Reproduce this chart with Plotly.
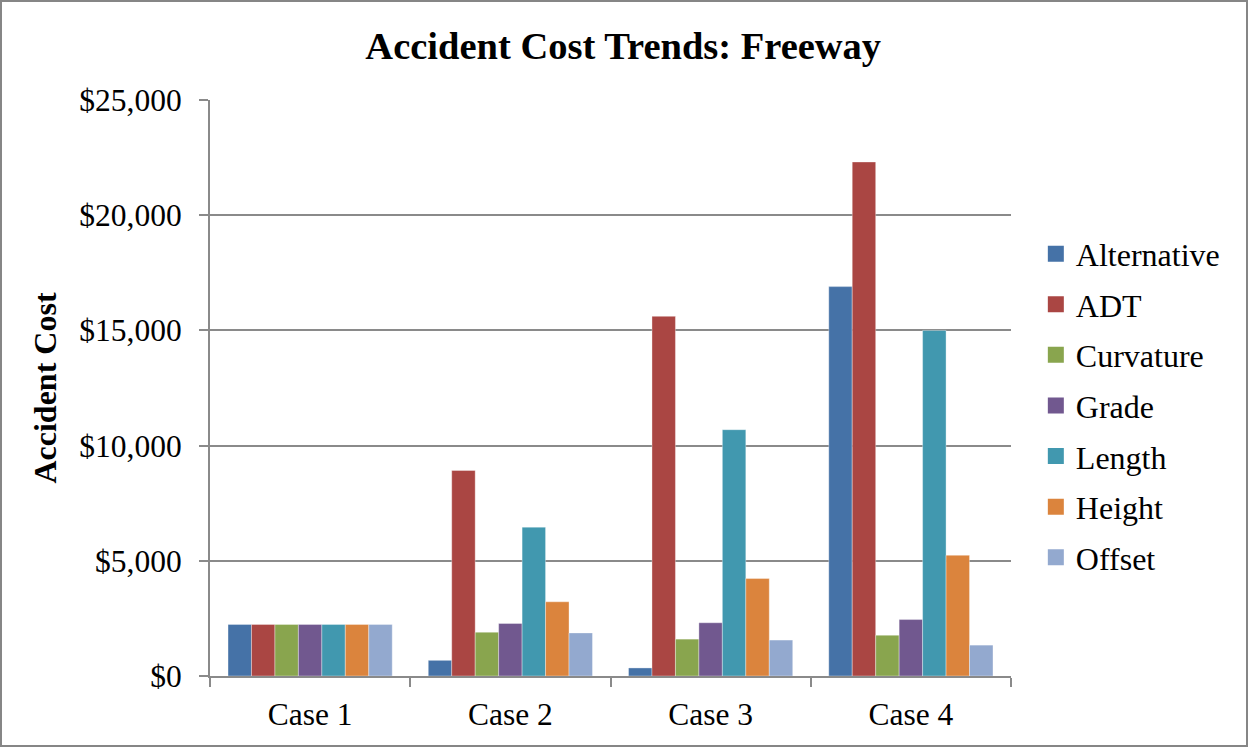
import plotly.graph_objects as go

categories = ["Case 1", "Case 2", "Case 3", "Case 4"]
series_names = ["Alternative", "ADT", "Curvature", "Grade", "Length", "Height", "Offset"]
alternative = [2240, 680, 350, 16900]
adt = [2240, 8920, 15610, 22310]
curvature = [2240, 1900, 1600, 1770]
grade = [2240, 2280, 2310, 2450]
length = [2240, 6460, 10690, 15000]
height = [2240, 3220, 4230, 5240]
offset = [2240, 1870, 1560, 1340]
colors = ["#4572A7", "#AA4643", "#89A54E", "#71588F", "#4198AF", "#DB843D", "#93A9CF"]

values = [alternative, adt, curvature, grade, length, height, offset]
FONT = "Liberation Serif, Times New Roman, serif"
GRID = "#8a8a8a"

fig = go.Figure()
for name, vals, col in zip(series_names, values, colors):
    fig.add_trace(go.Bar(
        name=name, x=categories, y=vals, marker_color=col,
        marker_line=dict(color="rgba(255,255,255,0.35)", width=1),
        legendgroup=name, showlegend=False,
    ))
# legend entries with larger square swatches
for name, col in zip(series_names, colors):
    fig.add_trace(go.Scatter(
        name=name, x=[None], y=[None], mode="markers",
        marker=dict(symbol="square", size=17, color=col, line=dict(width=0)),
        legendgroup=name, showlegend=True, hoverinfo="skip",
    ))

W, H = 1249, 748
L, R, T, B = 210, 238, 100, 72
fig.update_layout(
    width=W, height=H,
    margin=dict(l=L, r=R, t=T, b=B),
    paper_bgcolor="white", plot_bgcolor="white",
    barmode="group", bargap=0.18, bargroupgap=0,
    font=dict(family=FONT, size=31, color="black"),
    title=dict(text="<b>Accident Cost Trends: Freeway</b>", x=0.499, xanchor="center",
               y=1 - 46 / H, yanchor="middle", yref="container",
               font=dict(family=FONT, size=38.5, color="black")),
    legend=dict(x=1.031, xanchor="left", y=0.469, yanchor="middle",
                font=dict(family=FONT, size=32), tracegroupgap=6,
                itemwidth=30, bgcolor="rgba(0,0,0,0)"),
    xaxis=dict(showline=True, linecolor=GRID, linewidth=2, ticks="outside",
               tickson="boundaries", ticklen=9, tickcolor=GRID, tickwidth=2,
               showgrid=False, tickfont=dict(size=31.5), ticklabelstandoff=9),
    yaxis=dict(range=[0, 25000], dtick=5000, tickprefix="$", tickformat=",d",
               showline=True, linecolor=GRID, linewidth=2, ticks="outside",
               ticklen=9, tickcolor=GRID, tickwidth=2,
               showgrid=True, gridcolor=GRID, gridwidth=2, zeroline=False,
               tickfont=dict(size=31.5), ticklabelstandoff=11,
               title=dict(text="<b>Accident Cost</b>", font=dict(size=32), standoff=13)),
    shapes=[dict(type="rect", xref="paper", yref="paper",
                 x0=-(L - 1) / (W - L - R), x1=1 + (R - 2) / (W - L - R),
                 y0=-(B - 2) / (H - T - B), y1=1 + (T - 1) / (H - T - B),
                 line=dict(color="#868686", width=2), fillcolor="rgba(0,0,0,0)")],
)

fig.write_html("out.html", config={"displayModeBar": False},
               post_script="document.body.style.margin='0';document.body.style.overflow='hidden';")
